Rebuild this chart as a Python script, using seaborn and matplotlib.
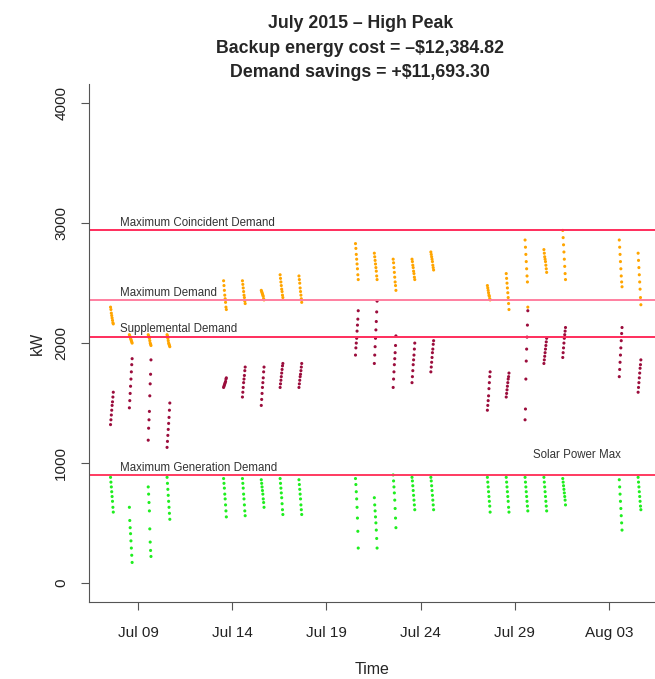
import pandas as pd
import numpy as np
import matplotlib
matplotlib.use("Agg")
import matplotlib.pyplot as plt
import matplotlib.dates as mdates
import seaborn as sns

# weekdays shown (high peak hours), and sample times within each day
days = ["2015-07-07", "2015-07-08", "2015-07-09", "2015-07-10",
        "2015-07-13", "2015-07-14", "2015-07-15", "2015-07-16", "2015-07-17",
        "2015-07-20", "2015-07-21", "2015-07-22", "2015-07-23", "2015-07-24",
        "2015-07-27", "2015-07-28", "2015-07-29", "2015-07-30", "2015-07-31",
        "2015-08-03", "2015-08-04"]
times = ["13:00", "13:30", "14:00", "14:30", "15:00", "15:30", "16:00", "16:30"]

# total demand (orange)
load_kw = [
    [2300, 2280, 2250, 2230, 2210, 2190, 2170, 2160],
    [2070, 2060, 2050, 2040, 2030, 2020, 2010, 2000],
    [2070, 2060, 2050, 2040, 2020, 2000, 1990, 1980],
    [2070, 2060, 2040, 2020, 2000, 1990, 1980, 1970],
    [2520, 2480, 2440, 2400, 2370, 2340, 2300, 2280],
    [2520, 2490, 2460, 2430, 2400, 2380, 2350, 2330],
    [2440, 2430, 2420, 2410, 2400, 2390, 2370, 2360],
    [2570, 2540, 2510, 2480, 2450, 2430, 2400, 2380],
    [2560, 2530, 2500, 2460, 2430, 2400, 2370, 2340],
    [2830, 2790, 2740, 2700, 2660, 2620, 2570, 2530],
    [2750, 2720, 2690, 2660, 2630, 2600, 2560, 2530],
    [2700, 2670, 2630, 2590, 2550, 2510, 2480, 2440],
    [2700, 2680, 2650, 2630, 2600, 2580, 2550, 2530],
    [2760, 2740, 2720, 2700, 2680, 2650, 2630, 2610],
    [2480, 2460, 2440, 2420, 2400, 2390, 2370, 2360],
    [2580, 2540, 2500, 2460, 2420, 2380, 2330, 2280],
    [2860, 2800, 2740, 2680, 2620, 2560, 2510, 2300],
    [2780, 2750, 2720, 2700, 2680, 2650, 2620, 2590],
    [2940, 2880, 2820, 2760, 2700, 2640, 2580, 2530],
    [2860, 2800, 2740, 2680, 2620, 2560, 2510, 2470],
    [2750, 2690, 2630, 2570, 2510, 2450, 2380, 2320],
]

# net demand after solar (dark red)
net_kw = [
    [1320, 1360, 1400, 1440, 1480, 1510, 1550, 1590],
    [1460, 1520, 1580, 1640, 1700, 1760, 1820, 1870],
    [1190, 1290, 1360, 1430, 1560, 1660, 1740, 1860],
    [1130, 1180, 1230, 1280, 1330, 1380, 1440, 1500],
    [1630, 1640, 1650, 1660, 1670, 1680, 1700, 1710],
    [1550, 1590, 1630, 1670, 1700, 1730, 1770, 1800],
    [1480, 1530, 1580, 1630, 1670, 1710, 1760, 1800],
    [1630, 1660, 1690, 1720, 1750, 1780, 1810, 1830],
    [1630, 1660, 1690, 1720, 1740, 1770, 1800, 1830],
    [1900, 1960, 2000, 2040, 2100, 2150, 2200, 2270],
    [1830, 1900, 1970, 2040, 2110, 2180, 2260, 2350],
    [1630, 1700, 1760, 1820, 1870, 1920, 1980, 2060],
    [1670, 1720, 1770, 1820, 1860, 1900, 1950, 2000],
    [1760, 1800, 1840, 1880, 1920, 1950, 1990, 2020],
    [1440, 1480, 1520, 1560, 1620, 1670, 1720, 1760],
    [1550, 1580, 1610, 1640, 1670, 1700, 1720, 1750],
    [1360, 1450, 1700, 1850, 1950, 2050, 2150, 2270],
    [1830, 1860, 1890, 1920, 1950, 1980, 2010, 2040],
    [1880, 1920, 1960, 2000, 2040, 2070, 2100, 2130],
    [1720, 1780, 1840, 1900, 1960, 2020, 2080, 2130],
    [1590, 1630, 1670, 1710, 1750, 1790, 1820, 1860],
]

# solar generation (green)
solar_kw = [
    [880, 840, 800, 760, 720, 680, 630, 590],
    [630, 520, 460, 410, 350, 290, 230, 170],
    [800, 740, 670, 600, 450, 340, 270, 220],
    [880, 830, 780, 730, 680, 630, 580, 530],
    [870, 830, 790, 740, 700, 650, 600, 550],
    [870, 830, 790, 740, 700, 650, 600, 560],
    [860, 830, 800, 770, 740, 700, 670, 630],
    [870, 830, 790, 750, 710, 660, 610, 570],
    [860, 820, 780, 740, 700, 650, 610, 570],
    [870, 820, 760, 700, 630, 540, 430, 290],
    [710, 650, 600, 550, 500, 440, 370, 290],
    [900, 850, 800, 750, 690, 620, 540, 460],
    [880, 850, 810, 770, 730, 690, 650, 610],
    [880, 850, 810, 770, 730, 690, 650, 610],
    [880, 840, 800, 760, 720, 680, 640, 590],
    [880, 840, 800, 760, 720, 680, 630, 590],
    [880, 840, 800, 760, 720, 680, 640, 600],
    [880, 840, 800, 760, 720, 680, 640, 600],
    [870, 840, 810, 780, 750, 720, 690, 650],
    [860, 800, 740, 680, 620, 560, 500, 440],
    [880, 840, 800, 760, 720, 680, 640, 610],
]

# reference levels
ref_names = ["Maximum Coincident Demand", "Maximum Demand",
             "Supplemental Demand", "Maximum Generation Demand"]
ref_kw = [2940, 2360, 2055, 900]
ref_colors = ["#ff2d5c", "#ff7fa0", "#ff2d5c", "#ff3a60"]

series_names = ["Load", "Net", "Solar"]
series_colors = ["#ffa500", "#9b0d3c", "#1fee1f"]

rows = []
for name, vals in zip(series_names, [load_kw, net_kw, solar_kw]):
    for d, dayvals in zip(days, vals):
        for t, v in zip(times, dayvals):
            rows.append({"time": pd.Timestamp(d + " " + t), "kW": v, "series": name})
df = pd.DataFrame(rows)

sns.set_style("white")
plt.rcParams["font.family"] = ["Liberation Sans", "DejaVu Sans"]

fig = plt.figure(figsize=(6.55, 6.79), dpi=100)
ax = fig.add_axes([0.136, 0.1134, 0.864, 0.7626])

sns.scatterplot(data=df, x="time", y="kW", hue="series", palette=series_colors,
                hue_order=series_names, s=5, linewidth=0, legend=False, ax=ax)

for name, val, col in zip(ref_names, ref_kw, ref_colors):
    ax.axhline(val, color=col, lw=1.4, zorder=1)
    ax.text(0.055, val + 12, name, transform=ax.get_yaxis_transform(),
            fontsize=8.3, color="#333333", va="bottom", ha="left")
ax.text(0.785, 1065, "Solar Power Max", transform=ax.get_yaxis_transform(),
        fontsize=8.3, color="#333333", va="center", ha="left")

ax.set_xlim(pd.Timestamp("2015-07-06 09:40"), pd.Timestamp("2015-08-05 10:30"))
ax.set_ylim(-160, 4160)
ax.set_yticks([0, 1000, 2000, 3000, 4000])
ticks = pd.to_datetime(["2015-07-09", "2015-07-14", "2015-07-19",
                        "2015-07-24", "2015-07-29", "2015-08-03"])
ax.set_xticks(ticks)
ax.xaxis.set_major_formatter(mdates.DateFormatter("%b %d"))
plt.setp(ax.get_yticklabels(), rotation=90, va="center")

ax.tick_params(axis="both", direction="out", length=6, width=0.8,
               color="#555555", labelsize=11, labelcolor="#222222",
               bottom=True, left=True)
ax.tick_params(axis="x", pad=11)
ax.tick_params(axis="y", pad=9)
for side in ["top", "right"]:
    ax.spines[side].set_visible(False)
for side in ["left", "bottom"]:
    ax.spines[side].set_color("#555555")
    ax.spines[side].set_linewidth(0.8)

ax.set_xlabel("Time", fontsize=11.5, labelpad=16)
ax.set_ylabel("kW", fontsize=11.5, labelpad=7)

fig.text(0.55, 0.965, "July 2015 \u2013 High Peak", ha="center", va="center",
         fontsize=12.8, fontweight="bold")
fig.text(0.55, 0.929, "Backup energy cost = \u2013$12,384.82", ha="center",
         va="center", fontsize=12.8, fontweight="bold")
fig.text(0.55, 0.893, "Demand savings = +$11,693.30", ha="center",
         va="center", fontsize=12.8, fontweight="bold")

fig.savefig("out.png", dpi=100)
